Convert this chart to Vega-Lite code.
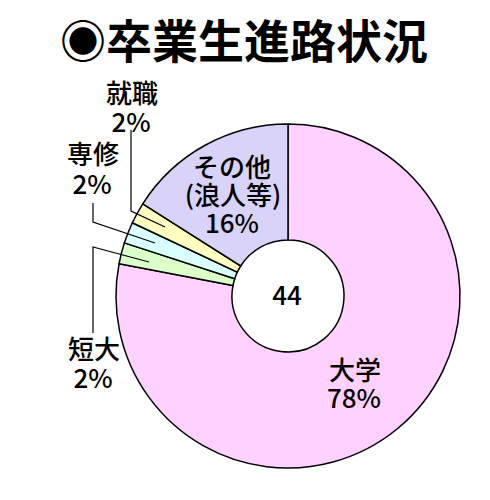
{
  "$schema": "https://vega.github.io/schema/vega-lite/v6.json",
  "autosize": {"type": "none"},
  "padding": {"left": 116, "top": 124, "right": 30, "bottom": 32},
  "width": 344,
  "height": 344,
  "background": "white",
  "config": {"view": {"stroke": null}, "text": {"font": "Noto Sans CJK JP"}},
  "datasets": {
    "slices": [
      {"cat": "大学", "pct": 78, "ord": 1},
      {"cat": "短大", "pct": 2, "ord": 2},
      {"cat": "専修", "pct": 2, "ord": 3},
      {"cat": "就職", "pct": 2, "ord": 4},
      {"cat": "その他", "pct": 16, "ord": 5}
    ],
    "leaders": [
      {"cat": "就職", "seq": 1, "x": -123, "y": 69},
      {"cat": "就職", "seq": 2, "x": -157, "y": 85},
      {"cat": "就職", "seq": 3, "x": -157, "y": 166},
      {"cat": "専修", "seq": 1, "x": -133, "y": 53},
      {"cat": "専修", "seq": 2, "x": -195, "y": 74},
      {"cat": "専修", "seq": 3, "x": -195, "y": 93},
      {"cat": "短大", "seq": 1, "x": -139, "y": 34},
      {"cat": "短大", "seq": 2, "x": -195, "y": 49},
      {"cat": "短大", "seq": 3, "x": -195, "y": -37}
    ],
    "labels": [
      {"t": "就職", "x": -156, "y": 201},
      {"t": "2%", "x": -157, "y": 172},
      {"t": "専修", "x": -195, "y": 140},
      {"t": "2%", "x": -196, "y": 110},
      {"t": "短大", "x": -194, "y": -55},
      {"t": "2%", "x": -195, "y": -84},
      {"t": "その他", "x": -56, "y": 127},
      {"t": "(浪人等)", "x": -55, "y": 99},
      {"t": "16%", "x": -56, "y": 71},
      {"t": "大学", "x": 67, "y": -76},
      {"t": "78%", "x": 66, "y": -104},
      {"t": "44", "x": -1, "y": -1}
    ],
    "heading": [
      {"t": "◉卒業生進路状況", "x": -44, "y": 252}
    ]
  },
  "layer": [
    {
      "data": {"name": "slices"},
      "mark": {"type": "arc", "outerRadius": 172, "innerRadius": 56, "stroke": "black", "strokeWidth": 1.5},
      "encoding": {
        "theta": {"field": "pct", "type": "quantitative", "stack": true},
        "order": {"field": "ord", "type": "quantitative"},
        "color": {
          "field": "cat",
          "type": "nominal",
          "scale": {
            "domain": ["大学", "短大", "専修", "就職", "その他"],
            "range": ["#FFD1FF", "#DAFFC9", "#D9FFFF", "#FFFFC2", "#D9D3FA"]
          },
          "legend": null
        }
      }
    },
    {
      "data": {"name": "leaders"},
      "mark": {"type": "line", "color": "black", "strokeWidth": 1.2},
      "encoding": {
        "x": {"field": "x", "type": "quantitative", "scale": {"domain": [-172, 172], "nice": false}, "axis": null},
        "y": {"field": "y", "type": "quantitative", "scale": {"domain": [-172, 172], "nice": false}, "axis": null},
        "detail": {"field": "cat"},
        "order": {"field": "seq"}
      }
    },
    {
      "data": {"name": "labels"},
      "mark": {"type": "text", "fontSize": 26, "fontWeight": 500, "baseline": "middle", "align": "center", "color": "black"},
      "encoding": {
        "x": {"field": "x", "type": "quantitative"},
        "y": {"field": "y", "type": "quantitative"},
        "text": {"field": "t"}
      }
    },
    {
      "data": {"name": "heading"},
      "mark": {"type": "text", "fontSize": 46, "fontWeight": "bold", "baseline": "middle", "align": "center", "color": "black"},
      "encoding": {
        "x": {"field": "x", "type": "quantitative"},
        "y": {"field": "y", "type": "quantitative"},
        "text": {"field": "t"}
      }
    }
  ]
}
